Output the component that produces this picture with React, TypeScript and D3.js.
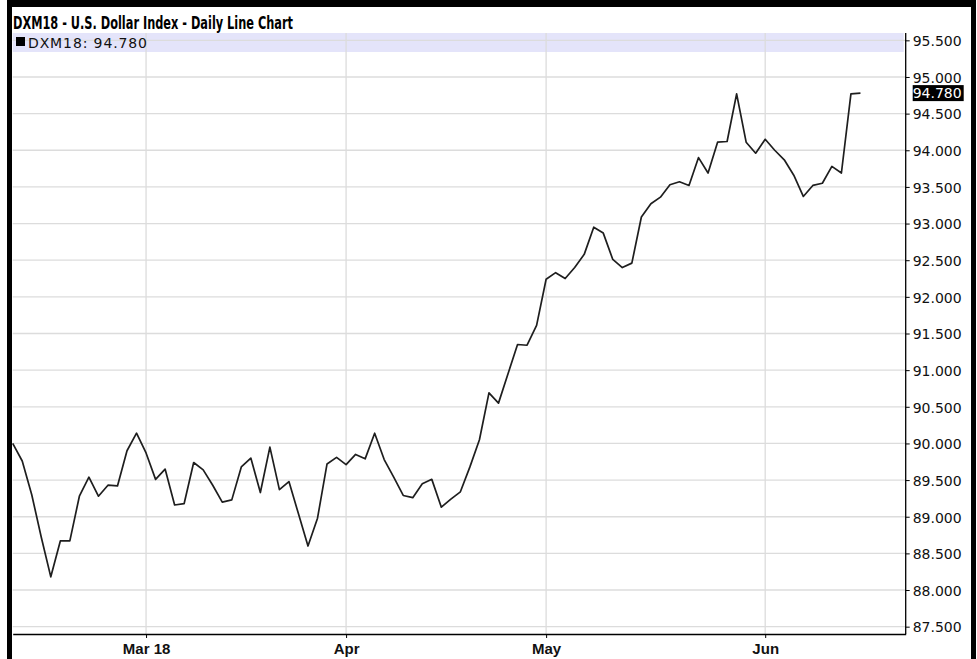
import * as d3 from "d3"
import React, { useEffect, useRef } from "react"

// DXM18 daily closes, one per trading day (Feb 9 2018 .. Jun 15 2018)
const closes = [
  90.00, 89.76, 89.30, 88.72, 88.18, 88.67, 88.67, 89.28, 89.54, 89.28,
  89.43, 89.42, 89.90, 90.14, 89.87, 89.51, 89.65, 89.16, 89.18, 89.74,
  89.64, 89.43, 89.20, 89.23, 89.68, 89.80, 89.33, 89.95, 89.37, 89.48,
  89.04, 88.60, 88.98, 89.72, 89.81, 89.71, 89.85, 89.79, 90.14, 89.78,
  89.54, 89.29, 89.26, 89.45, 89.51, 89.13, 89.24, 89.34, 89.68, 90.05,
  90.69, 90.55, 90.95, 91.35, 91.34, 91.61, 92.24, 92.33, 92.25, 92.40,
  92.58, 92.95, 92.87, 92.51, 92.40, 92.46, 93.09, 93.27, 93.36, 93.53,
  93.57, 93.52, 93.90, 93.69, 94.11, 94.12, 94.77, 94.11, 93.96, 94.15,
  94.00, 93.87, 93.66, 93.37, 93.52, 93.55, 93.78, 93.69, 94.77, 94.78
]

// first trading day of each month (index into closes) and its label
const monthLabels = ["Mar 18", "Apr", "May", "Jun"]
const monthIndex = [14, 35, 56, 79]

// price ticks on the right axis
const priceTicks = [87.5, 88, 88.5, 89, 89.5, 90, 90.5, 91, 91.5, 92, 92.5, 93, 93.5, 94, 94.5, 95, 95.5]

const symbol = "DXM18"
const title = "DXM18 - U.S. Dollar Index - Daily Line Chart"

const W = 977, H = 659
const plot = { left: 12.7, right: 905.7, top: 33, bottom: 634 }
const labelFont = "'DejaVu Sans', sans-serif"

export default function App() {
  const ref = useRef(null)

  useEffect(() => {
    const svg = d3.select(ref.current)
    svg.selectAll("*").remove()

    const x = d3.scaleLinear().domain([0, 93.75]).range([plot.left, plot.right])
    const y = d3.scaleLinear().domain([87.4, 95.6]).range([plot.bottom, plot.top])
    const last = closes[closes.length - 1]

    //black frame round the whole picture
    svg.append("rect").attr("x", 7).attr("y", 0).attr("width", 969).attr("height", H).attr("fill", "#000")
    svg.append("rect").attr("x", 12).attr("y", 7).attr("width", 959).attr("height", H).attr("fill", "#fff")

    svg.append("text")
      .attr("x", 13).attr("y", 29)
      .attr("font-family", "'Liberation Sans Narrow', 'DejaVu Sans Condensed', 'Liberation Sans', sans-serif")
      .attr("font-weight", "bold").attr("font-size", 17)
      .attr("textLength", 280).attr("lengthAdjust", "spacingAndGlyphs")
      .text(title)

    //legend band on top of the plot
    svg.append("rect")
      .attr("x", plot.left).attr("y", plot.top)
      .attr("width", plot.right - plot.left - 2).attr("height", 19)
      .attr("fill", "#e4e4fa")

    //grid
    const grid = svg.append("g").attr("stroke", "#dcdcdc").attr("stroke-width", 1.3)
    grid.selectAll("hline").data(priceTicks).enter().append("line")
      .attr("x1", plot.left).attr("x2", plot.right)
      .attr("y1", d => y(d)).attr("y2", d => y(d))
    grid.selectAll("vline").data(monthIndex).enter().append("line")
      .attr("x1", d => x(d)).attr("x2", d => x(d))
      .attr("y1", plot.top).attr("y2", plot.bottom)

    //legend entry
    svg.append("rect").attr("x", 16).attr("y", 37).attr("width", 9).attr("height", 9).attr("fill", "#000")
    svg.append("text")
      .attr("x", 28).attr("y", 47.5)
      .attr("font-family", labelFont).attr("font-size", 14)
      .attr("textLength", 119).attr("lengthAdjust", "spacing")
      .attr("fill", "#111")
      .text(symbol + ": " + last.toFixed(3))

    //price line
    const line = d3.line().x((d, i) => x(i)).y(d => y(d))
    svg.append("path")
      .datum(closes)
      .attr("fill", "none")
      .attr("stroke", "#1e1e1e")
      .attr("stroke-width", 1.7)
      .attr("stroke-linejoin", "round")
      .attr("d", line)

    //right axis with prices
    const yAxis = d3.axisRight(y).tickValues(priceTicks).tickFormat(d3.format(".3f")).tickSize(4).tickSizeOuter(0)
    const gy = svg.append("g").attr("transform", "translate(" + plot.right + ",0)").call(yAxis)
    gy.select(".domain").attr("stroke", "#000").attr("stroke-width", 1.3)
      .attr("d", "M0," + plot.top + "V" + plot.bottom)
    gy.selectAll("line").attr("stroke", "#000")
    gy.selectAll("text")
      .attr("font-family", labelFont).attr("font-size", 14)
      .attr("textLength", 49).attr("lengthAdjust", "spacing")
      .attr("fill", "#111").attr("x", 7).attr("dy", "0.38em")

    //bottom axis with months
    const xAxis = d3.axisBottom(x).tickValues(monthIndex).tickFormat((d, i) => monthLabels[i]).tickSize(4).tickSizeOuter(0)
    const gx = svg.append("g").attr("transform", "translate(0," + plot.bottom + ")").call(xAxis)
    gx.select(".domain").attr("stroke", "#000").attr("stroke-width", 1.3)
    gx.selectAll("line").attr("stroke", "#000")
    gx.selectAll("text")
      .attr("font-family", "'Liberation Sans', Arial, sans-serif").attr("font-size", 15)
      .attr("font-weight", "bold").attr("fill", "#111").attr("y", 9)

    //last value marker
    svg.append("rect")
      .attr("x", plot.right + 7).attr("y", y(last) - 8)
      .attr("width", 51).attr("height", 16).attr("fill", "#000")
    svg.append("text")
      .attr("x", plot.right + 7).attr("y", y(last)).attr("dy", "0.38em")
      .attr("font-family", labelFont).attr("font-size", 14)
      .attr("textLength", 49).attr("lengthAdjust", "spacing")
      .attr("fill", "#fff")
      .text(last.toFixed(3))
  }, [])

  return (
    <svg ref={ref} width={W} height={H} style={{ position: "absolute", left: 0, top: 0, background: "#fff" }} />
  )
}
